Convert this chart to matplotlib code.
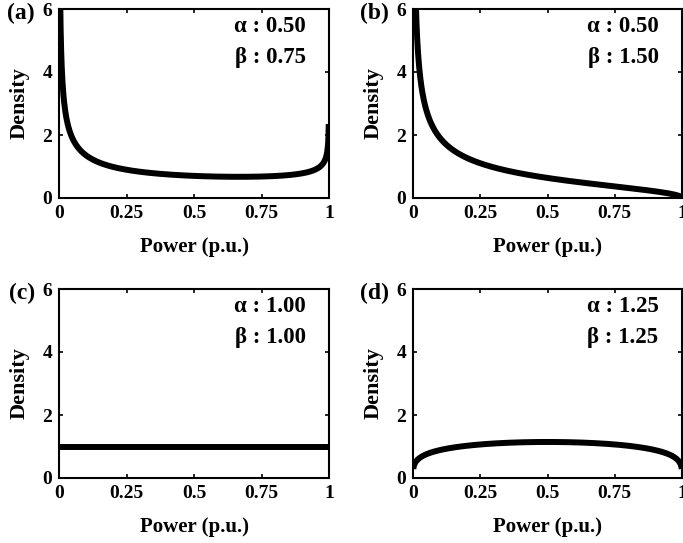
import math
import numpy as np
import matplotlib
matplotlib.use("Agg")
import matplotlib.pyplot as plt

plt.rcParams['font.family'] = ['Liberation Serif', 'DejaVu Serif']
plt.rcParams['font.weight'] = 'bold'

panel_labels = ['(a)', '(b)', '(c)', '(d)']
alphas = [0.50, 0.50, 1.00, 1.25]
betas = [0.75, 1.50, 1.00, 1.25]
xticks = [0, 0.25, 0.5, 0.75, 1]
xticklabels = ['0', '0.25', '0.5', '0.75', '1']
yticks = [0, 2, 4, 6]
xlabel = 'Power (p.u.)'
ylabel = 'Density'

W, H = 683, 543
fig = plt.figure(figsize=(W / 100, H / 100), dpi=100)

# axes boxes in pixels: left, top, right, bottom
boxes = [(59, 9, 329, 198), (413, 9, 682, 198),
         (59, 289, 329, 478), (413, 289, 682, 478)]

x = np.arange(1, 1000) / 1000.0

def beta_pdf(xx, a, b):
    B = math.gamma(a) * math.gamma(b) / math.gamma(a + b)
    return xx ** (a - 1) * (1 - xx) ** (b - 1) / B

for i, (l, t, r, b) in enumerate(boxes):
    ax = fig.add_axes([l / W, 1 - b / H, (r - l) / W, (b - t) / H])
    y = beta_pdf(x, alphas[i], betas[i])
    ax.plot(x, y, color='black', lw=4.3, solid_capstyle='butt', clip_on=True)
    ax.set_xlim(0, 1)
    ax.set_ylim(0, 6)
    ax.set_xticks(xticks)
    ax.set_xticklabels(xticklabels)
    ax.set_yticks(yticks)
    ax.tick_params(direction='in', top=True, right=True, length=3, width=1.2,
                   labelsize=14, pad=5)
    for lab in ax.get_xticklabels() + ax.get_yticklabels():
        lab.set_fontweight('bold')
    for s in ax.spines.values():
        s.set_linewidth(1.5)
    ax.set_xlabel(xlabel, fontsize=15, fontweight='bold', labelpad=11)
    ax.set_ylabel(ylabel, fontsize=16, fontweight='bold', labelpad=9)
    ax.text(0.913, 0.905, '\u03b1 : %.2f' % alphas[i], transform=ax.transAxes,
            ha='right', va='center', fontsize=16.5, fontweight='bold')
    ax.text(0.913, 0.745, '\u03b2 : %.2f' % betas[i], transform=ax.transAxes,
            ha='right', va='center', fontsize=16.5, fontweight='bold')
    ax.text(-0.09, 0.975, panel_labels[i], transform=ax.transAxes,
            ha='right', va='center', fontsize=17, fontweight='bold')

fig.savefig('out.png', dpi=100)
